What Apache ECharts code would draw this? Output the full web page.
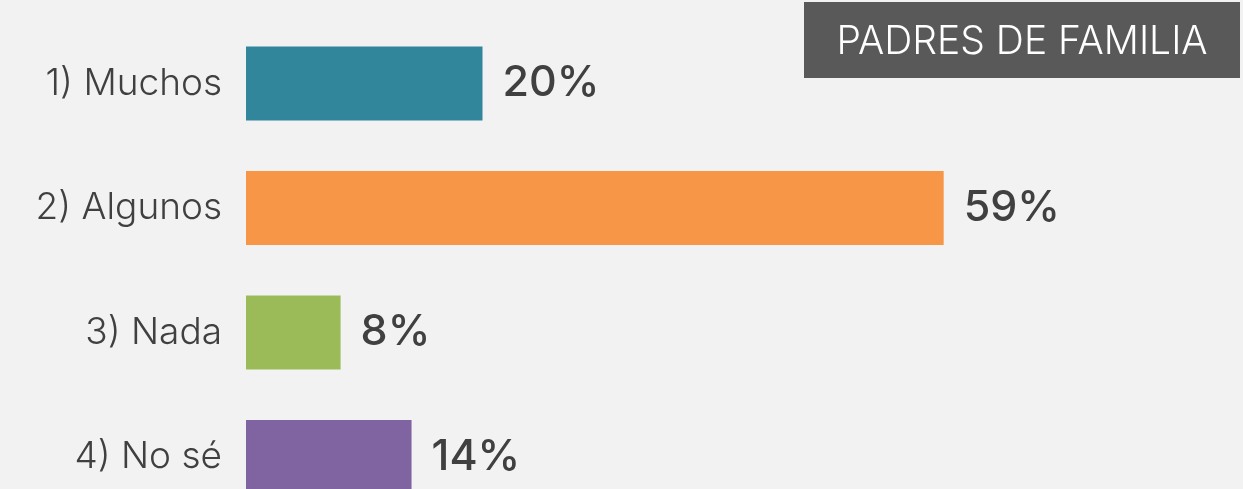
<!DOCTYPE html>
<html>
<head>
<meta charset="utf-8">
<script src="https://cdn.jsdelivr.net/npm/echarts@6/dist/echarts.min.js"></script>
<style>
  html, body { margin: 0; padding: 0; background: #f2f2f2; }
  #chart { width: 1243px; height: 489px; }
</style>
</head>
<body>
<div id="chart"></div>
<script>
// categorias y valores
const categories = ['1) Muchos', '2) Algunos', '3) Nada', '4) No sé']
const values = [20, 59, 8, 14]
const barColors = ['#31869b', '#f79646', '#9bbb59', '#8064a2']
const panelTitle = 'PADRES DE FAMILIA'

const textColor = '#404040'
const font = 'Inter'

const myChart = echarts.init(document.getElementById('chart'))

const option = {
  backgroundColor: '#f2f2f2',
  animation: false,
  // sin boundaryGap: las barras quedan en los bordes del grid
  grid: {
    left: 246,
    right: 51,
    top: 83.5,
    bottom: 32
  },
  xAxis: {
    type: 'value',
    min: 0,
    max: 80,
    show: false
  },
  yAxis: {
    type: 'category',
    inverse: true,
    boundaryGap: false,
    data: categories,
    axisLine: { show: false },
    axisTick: { show: false },
    axisLabel: {
      margin: 24,
      color: textColor,
      fontSize: 37,
      fontWeight: 300,
      fontFamily: font
    }
  },
  series: [{
    type: 'bar',
    barWidth: 74,
    clip: false,
    data: values.map((v, i) => ({
      value: v,
      itemStyle: { color: barColors[i] }
    })),
    label: {
      show: true,
      position: 'right',
      distance: 20,
      formatter: '{c}%',
      color: textColor,
      fontSize: 43,
      fontWeight: 500,
      fontFamily: font
    }
  }],
  graphic: [{
    type: 'group',
    left: 804,
    top: 2,
    children: [{
      type: 'rect',
      shape: { x: 0, y: 0, width: 436, height: 76 },
      style: { fill: '#595959' }
    }, {
      type: 'text',
      x: 218,
      y: 40,
      style: {
        text: panelTitle,
        fill: '#ffffff',
        fontSize: 39,
        fontWeight: 300,
        fontFamily: font,
        align: 'center',
        verticalAlign: 'middle'
      }
    }]
  }]
}

myChart.setOption(option)
</script>
</body>
</html>
